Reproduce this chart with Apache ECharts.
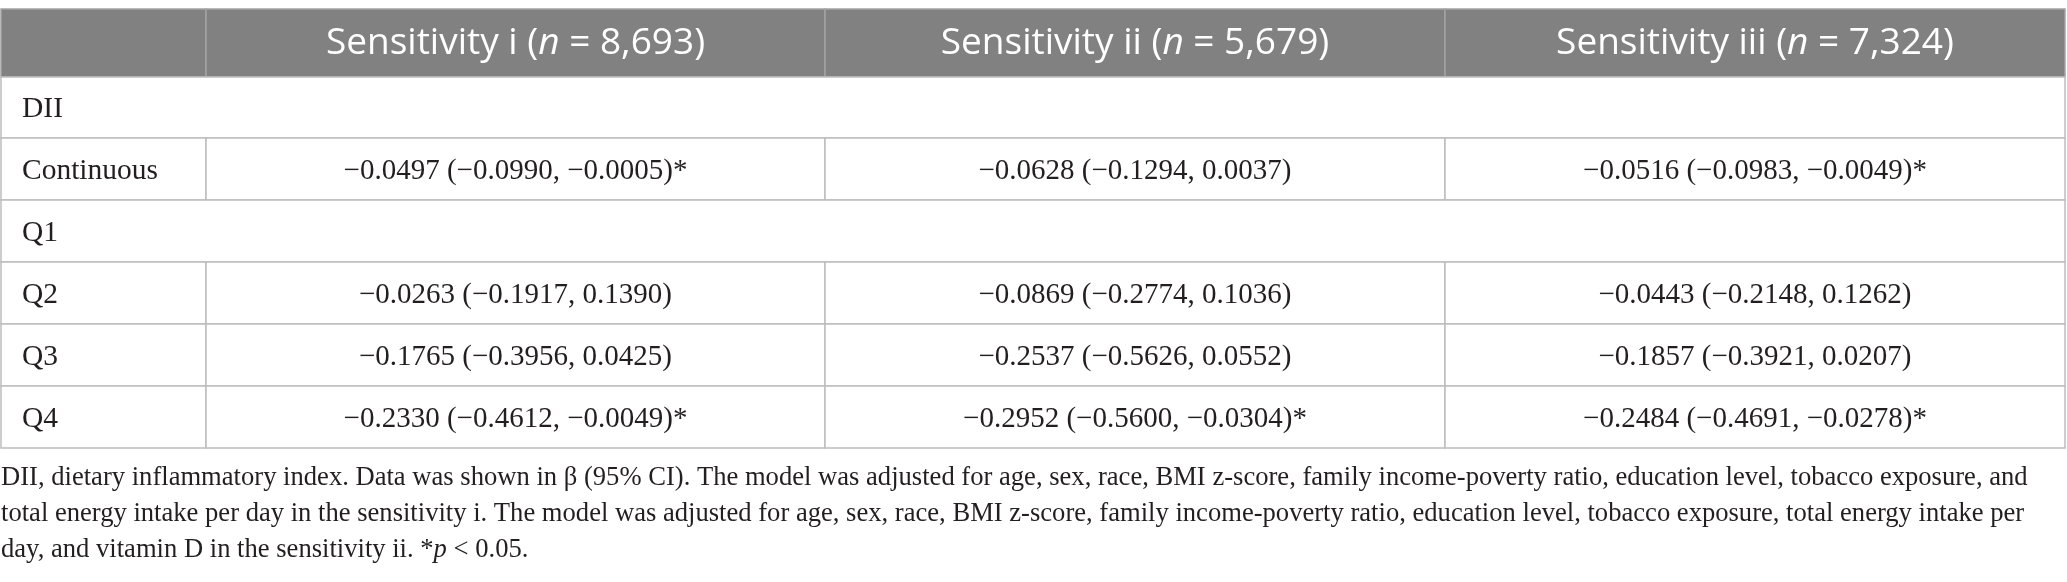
<!DOCTYPE html>
<html>
<head>
<meta charset="utf-8">
<script src="https://cdn.jsdelivr.net/npm/echarts@6/dist/echarts.min.js"></script>
<style>
html, body { margin: 0; padding: 0; background: #fff; }
#main { width: 2067px; height: 582px; }
</style>
</head>
<body>
<div id="main"></div>
<script>
/* table content */
var rowLabels = ['DII', 'Continuous', 'Q1', 'Q2', 'Q3', 'Q4'];
var groupRows = ['DII', 'Q1'];              // rows that span the whole table
var dataRows = ['Continuous', 'Q2', 'Q3', 'Q4'];
var colTitles = ['Sensitivity i', 'Sensitivity ii', 'Sensitivity iii'];
var sampleSizes = ['8,693', '5,679', '7,324'];

var betaI  = [-0.0497, -0.0263, -0.1765, -0.2330];
var lowI   = [-0.0990, -0.1917, -0.3956, -0.4612];
var highI  = [-0.0005,  0.1390,  0.0425, -0.0049];
var betaII = [-0.0628, -0.0869, -0.2537, -0.2952];
var lowII  = [-0.1294, -0.2774, -0.5626, -0.5600];
var highII = [ 0.0037,  0.1036,  0.0552, -0.0304];
var betaIII = [-0.0516, -0.0443, -0.1857, -0.2484];
var lowIII  = [-0.0983, -0.2148, -0.3921, -0.4691];
var highIII = [-0.0049,  0.1262,  0.0207, -0.0278];
var sigI   = [true, false, false, true];
var sigII  = [false, false, false, true];
var sigIII = [true, false, false, true];

var footLines = [
    'DII, dietary inflammatory index. Data was shown in \u03b2 (95% CI). The model was adjusted for age, sex, race, BMI z-score, family income-poverty ratio, education level, tobacco exposure, and',
    'total energy intake per day in the sensitivity i. The model was adjusted for age, sex, race, BMI z-score, family income-poverty ratio, education level, tobacco exposure, total energy intake per',
    'day, and vitamin D in the sensitivity ii. *{i|p} < 0.05.'
];

/* layout (px units of the axes) */
var colWidths = [205, 619, 620, 620];
var rowHeights = [68, 61, 62, 62, 62, 62, 62];
var colEdges = [0], rowEdges = [0];
colWidths.forEach(function (w, i) { colEdges.push(colEdges[i] + w); });
rowHeights.forEach(function (h, i) { rowEdges.push(rowEdges[i] + h); });

var serif = '"Liberation Serif", "Times New Roman", serif';
var sans = '"Open Sans", "Noto Sans", sans-serif';

function fmt(v) {
    return (v < 0 ? '\u2212' : '') + Math.abs(v).toFixed(4);
}

var groups = [
    [betaI, lowI, highI, sigI],
    [betaII, lowII, highII, sigII],
    [betaIII, lowIII, highIII, sigIII]
];

// build the cell list
var cells = [];
cells.push({ col: 0, row: 0, span: 1, kind: 'head', text: '' });
colTitles.forEach(function (t, i) {
    cells.push({ col: i + 1, row: 0, span: 1, kind: 'head',
        text: t + ' ({i|n} = ' + sampleSizes[i] + ')' });
});
rowLabels.forEach(function (lab, r) {
    var row = r + 1;
    if (groupRows.indexOf(lab) >= 0) {
        cells.push({ col: 0, row: row, span: 4, kind: 'label', text: lab });
        return;
    }
    cells.push({ col: 0, row: row, span: 1, kind: 'label', text: lab });
    var k = dataRows.indexOf(lab);
    groups.forEach(function (g, gi) {
        var txt = fmt(g[0][k]) + ' (' + fmt(g[1][k]) + ', ' + fmt(g[2][k]) + ')' + (g[3][k] ? '*' : '');
        cells.push({ col: gi + 1, row: row, span: 1, kind: 'value', text: txt });
    });
});

var fontSizes = { head: 37, label: 29.5, value: 29 };

function renderCell(params, api) {
    var col = api.value(0), row = api.value(1), span = api.value(2);
    var c = cells[params.dataIndex];
    var p0 = api.coord([colEdges[col], rowEdges[row]]);
    var p1 = api.coord([colEdges[col + span], rowEdges[row + 1]]);
    var w = p1[0] - p0[0], h = p1[1] - p0[1];
    var isHead = c.kind === 'head';
    var children = [{
        type: 'rect',
        shape: { x: p0[0], y: p0[1], width: w, height: h },
        style: {
            fill: isHead ? '#808180' : '#ffffff',
            stroke: isHead ? '#a3a3a3' : '#bdbdbd',
            lineWidth: 1.5
        }
    }];
    if (c.text) {
        var tx = c.kind === 'label' ? p0[0] + 21 : p0[0] + w / 2;
        children.push({
            type: 'text',
            x: tx,
            y: p0[1] + h / 2 + (isHead ? 0 : 2),
            style: {
                text: c.text,
                align: c.kind === 'label' ? 'left' : 'center',
                verticalAlign: 'middle',
                fill: isHead ? '#ffffff' : '#231f20',
                fontFamily: isHead ? sans : serif,
                fontSize: fontSizes[c.kind],
                rich: {
                    i: { fontStyle: 'italic', fontFamily: sans, fontSize: fontSizes.head, fill: '#ffffff' }
                }
            }
        });
    }
    return { type: 'group', children: children };
}

var chart = echarts.init(document.getElementById('main'));
chart.setOption({
    animation: false,
    title: {
        text: footLines.join('\n'),
        left: 1,
        top: 460,
        padding: 0,
        textStyle: {
            fontFamily: serif,
            fontSize: 26.6,
            fontWeight: 'normal',
            color: '#231f20',
            lineHeight: 36,
            rich: {
                i: { fontFamily: serif, fontSize: 26.6, fontStyle: 'italic', color: '#231f20', lineHeight: 36 }
            }
        }
    },
    grid: { left: 1, top: 9, width: 2064, height: 439 },
    xAxis: { type: 'value', min: 0, max: colEdges[colEdges.length - 1], show: false },
    yAxis: { type: 'value', min: 0, max: rowEdges[rowEdges.length - 1], inverse: true, show: false },
    series: [{
        type: 'custom',
        renderItem: renderCell,
        data: cells.map(function (c) { return [c.col, c.row, c.span]; }),
        silent: true
    }]
});
</script>
</body>
</html>
